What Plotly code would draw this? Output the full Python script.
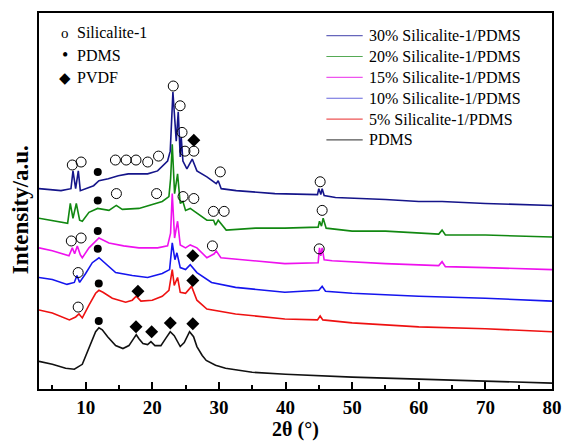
import plotly.graph_objects as go

# 2theta (deg) and intensity (a.u., stacked offsets as in the figure)
pdms_x = [3.0, 5, 7, 8.3, 9.5, 10.5, 11.5, 12.0, 12.5, 13.3, 14.5, 15.6, 16.5, 17.2, 17.6, 18.0, 18.6, 19.3, 19.8,
          20.4, 21.3, 22.0, 22.7, 23.3, 24.2, 24.8, 25.6, 26.2, 26.7, 27.5, 28.1, 29.5, 31, 35, 40, 50, 60, 70, 80]
pdms_y = [35, 32, 28, 27, 32, 48, 65, 69, 67, 60, 51, 48, 51, 58, 62, 58, 53, 52, 55,
          51, 51, 58, 65, 61, 50, 54, 65, 60, 50, 41, 36, 31, 28, 24, 22, 19, 17, 15, 13]

s5_x = [3.0, 5, 7.56, 8.5, 9.0, 9.5, 10.5, 11.5, 12.0, 12.6, 14, 16, 17.0, 17.6, 18.3, 20, 21.5, 22.5, 23.0, 23.3,
        23.8, 24.2, 25.0, 25.9, 26.7, 28.2, 32.5, 39.9, 44.8, 45.2, 45.6, 50, 60, 70, 80]
s5_y = [87, 84, 77, 80, 83, 79, 92, 104, 107, 105, 99, 95, 97, 101, 96, 97, 101, 107, 128, 112,
        120, 105, 104, 111, 97, 88, 83, 78, 77, 81, 77, 74, 70, 68, 65]

s10_x = [3.0, 5, 7.2, 8.3, 8.7, 9.1, 10.0, 11.0, 12.0, 12.8, 14.5, 17, 19.3, 21.5, 22.6, 23.0, 23.4, 23.7, 24.2,
         25.0, 25.7, 26.7, 28.9, 32.5, 39.9, 45.0, 45.5, 46, 50, 60, 70, 80]
s10_y = [120, 118, 113, 115, 122, 115, 124, 135, 140, 135, 125, 122, 120, 124, 128, 155, 138, 145, 130,
         128, 133, 125, 115, 110, 105, 107, 111, 106, 104, 101, 99, 96]

s15_x = [3.0, 5, 7.5, 8.0, 8.35, 8.75, 9.2, 9.5, 10.5, 12.0, 13.5, 15.7, 18, 20.8, 22.3, 22.75, 23.0, 23.35, 23.8,
         24.2, 25.0, 25.7, 26.7, 28.2, 29.3, 29.6, 30.3, 35.5, 39.9, 44.9, 45.1, 45.3, 45.5, 45.8, 47, 55, 63.0,
         63.5, 64.0, 70, 80]
s15_y = [150, 147, 142, 150, 144, 152, 143, 140, 150, 160, 155, 152, 150, 150, 152, 165, 205, 160, 177,
         153, 150, 153, 150, 140, 144, 147, 140, 137, 134, 135, 150, 142, 150, 138, 137, 134, 132,
         136, 131, 130, 128]

s20_x = [3.0, 5, 7.3, 7.7, 8.1, 8.6, 9.1, 9.5, 10.5, 11.8, 13.5, 14.6, 15.5, 18, 20.6, 21.5, 22.5, 22.75, 23.0,
         23.35, 23.8, 24.2, 24.6, 25.0, 25.7, 26.7, 28.2, 29.2, 29.5, 29.9, 31.1, 35.5, 39.9, 44.9, 45.1, 45.4,
         45.65, 46.1, 50, 55, 60, 63.0, 63.5, 64.0, 70, 80]
s20_y = [180, 178, 175, 195, 180, 195, 178, 177, 186, 190, 188, 193, 189, 190, 195, 197, 202, 220, 255,
         205, 225, 195, 197, 188, 190, 185, 178, 178, 173, 178, 168, 170, 170, 171, 177, 172,
         180, 170, 167, 167, 165, 164, 168, 163, 163, 161]

s30_x = [3.0, 6.3, 7.8, 8.1, 8.5, 8.9, 9.2, 11.2, 12.0, 13.4, 14.9, 16.4, 17.9, 19.3, 20.8, 22.3, 22.7, 23.1, 23.6,
         23.9, 24.2, 24.35, 24.6, 25.2, 26.0, 26.7, 28.2, 29.6, 29.9, 30.35, 32.6, 38.4, 44.8, 45.0, 45.3, 45.5,
         45.8, 47.5, 55, 60, 63.5, 70, 80]
s30_y = [210, 208, 210, 228, 210, 228, 208, 213, 218, 220, 223, 225, 225, 225, 228, 238, 248, 308, 258,
         288, 242, 262, 238, 230, 240, 228, 222, 215, 218, 210, 208, 205, 204, 210, 204, 210,
         203, 201, 199, 197, 197, 195, 193]

series_names = ["PDMS", "5% Silicalite-1/PDMS", "10% Silicalite-1/PDMS",
                "15% Silicalite-1/PDMS", "20% Silicalite-1/PDMS", "30% Silicalite-1/PDMS"]
series_x = [pdms_x, s5_x, s10_x, s15_x, s20_x, s30_x]
series_y = [pdms_y, s5_y, s10_y, s15_y, s20_y, s30_y]
series_colors = ["#111111", "#ee1111", "#1515ee", "#ee11ee", "#118811", "#15158a"]
legend_colors = ["#555555", "#ee5555", "#6666dd", "#ee55ee", "#55aa55", "#6666bb"]

# peak identification markers
sil_x = [8.0, 9.32, 14.47, 16.09, 17.56, 19.32, 20.94, 23.15, 24.18, 24.47, 24.91, 26.24, 30.21, 45.2,
         14.62, 20.65, 24.62, 26.24, 29.18, 30.79, 45.5,
         7.85, 9.32, 29.03, 45.06,
         8.88, 8.88]
sil_y = [234, 237, 239, 239, 239, 237, 243, 314, 294, 267, 248, 248, 227, 217,
         205, 205, 202, 200, 187, 187, 188,
         157, 160, 152, 149,
         125, 90]
pd_x = [11.82, 11.82, 11.82, 11.82, 11.97, 11.97]
pd_y = [227, 198, 167, 149, 114, 76]
pv_x = [26.24, 26.09, 17.85, 26.09, 17.56, 19.91, 22.71, 26.09]
pv_y = [259, 142, 106, 117, 70, 65, 74, 73]

key_labels = ["Silicalite-1", "PDMS", "PVDF"]
key_symbols = ["o", "•", "◆"]

FONT = "Liberation Serif"
fig = go.Figure()
for name, xs, ys, c in zip(series_names, series_x, series_y, series_colors):
    fig.add_trace(go.Scatter(x=xs, y=ys, mode="lines", name=name, showlegend=False,
                             line=dict(color=c, width=1.6)))

fig.add_trace(go.Scatter(x=sil_x, y=sil_y, mode="markers", showlegend=False,
                         marker=dict(symbol="circle-open", size=10, color="black", line=dict(width=1))))
fig.add_trace(go.Scatter(x=pd_x, y=pd_y, mode="markers", showlegend=False,
                         marker=dict(symbol="circle", size=8, color="black")))
fig.add_trace(go.Scatter(x=pv_x, y=pv_y, mode="markers", showlegend=False,
                         marker=dict(symbol="diamond", size=10, color="black")))

L, R, T, B = 39, 11, 12, 51
W, H = 573, 445
pw, ph = W - L - R, H - T - B


def px(xp):
    return (xp - L) / pw


def py(yp):
    return 1 - (yp - T) / ph


annotations = []
shapes = []
key_y = [32, 55, 78]
for lab, sym, yy in zip(key_labels, key_symbols, key_y):
    annotations.append(dict(xref="paper", yref="paper", x=px(65), y=py(yy),
                            text=sym, showarrow=False, xanchor="center", yanchor="middle",
                            font=dict(family=FONT, size=18 if sym == "•" else 15, color="black")))
    annotations.append(dict(xref="paper", yref="paper", x=px(76), y=py(yy),
                            text=lab, showarrow=False, xanchor="left", yanchor="middle",
                            font=dict(family=FONT, size=16, color="black")))

# custom legend (top = 30%)
leg_rows = [35 + 21.2 * i for i in range(6)]
for row_y, name, c in zip(leg_rows, series_names[::-1], legend_colors[::-1]):
    shapes.append(dict(type="line", xref="paper", yref="paper", x0=px(332), x1=px(369),
                       y0=py(row_y), y1=py(row_y), line=dict(color=c, width=1.2)))
    annotations.append(dict(xref="paper", yref="paper", x=px(373), y=py(row_y), text=name,
                            showarrow=False, xanchor="left", yanchor="middle",
                            font=dict(family=FONT, size=16, color="black")))

annotations.append(dict(xref="paper", yref="paper", x=px(20), y=py(212),
                        text="<b>Intensity/a.u.</b>", textangle=-90, showarrow=False,
                        xanchor="center", yanchor="middle",
                        font=dict(family=FONT, size=23, color="black")))

fig.update_layout(
    width=W, height=H, margin=dict(l=L, r=R, t=T, b=B),
    paper_bgcolor="white", plot_bgcolor="white",
    font=dict(family=FONT, color="black"),
    showlegend=False,
    annotations=annotations, shapes=shapes,
)
ticks = [10, 20, 30, 40, 50, 60, 70, 80]
fig.update_xaxes(range=[3, 80], tickvals=ticks,
                 ticktext=["<b>%d</b>" % v for v in ticks],
                 ticks="inside", ticklen=7, tickwidth=1.5, tickcolor="black",
                 minor=dict(tickvals=[5, 15, 25, 35, 45, 55, 65, 75], ticks="inside", ticklen=4,
                            tickwidth=1.5, tickcolor="black"),
                 showline=True, linecolor="black", linewidth=2, mirror=True,
                 showgrid=False, zeroline=False,
                 tickfont=dict(family=FONT, size=19, color="black"),
                 title=dict(text="<b>2θ (°)</b>", font=dict(family=FONT, size=20, color="black"),
                            standoff=2))
fig.update_yaxes(range=[7, 388], showticklabels=False, ticks="",
                 showline=True, linecolor="black", linewidth=2, mirror=True,
                 showgrid=False, zeroline=False)

fig.write_html("out.html")
